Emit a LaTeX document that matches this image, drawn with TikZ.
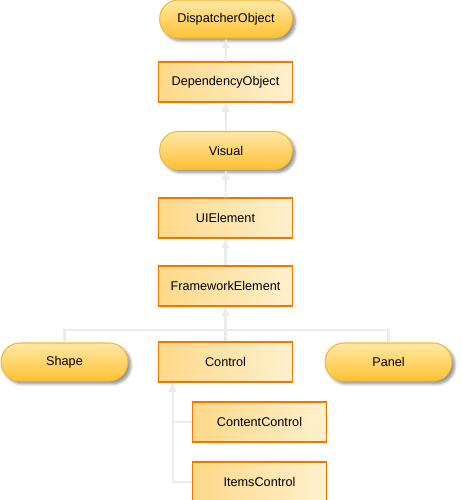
\documentclass[tikz,border=0pt]{standalone}
\usepackage{fontspec}
\setmainfont{Liberation Sans}
\usetikzlibrary{arrows.meta,shadows.blur,calc}
\definecolor{rectL}{HTML}{FDD888}
\definecolor{rectR}{HTML}{FFF0CE}
\definecolor{rectB}{HTML}{EE7700}
\definecolor{pillT}{HTML}{FFE8A6}
\definecolor{pillB}{HTML}{FFC232}
\definecolor{pillD}{HTML}{F2B83A}
\definecolor{connC}{HTML}{EBEBEB}
\begin{document}
\begin{tikzpicture}[x=0.75pt,y=-0.75pt,
  font=\fontsize{9.5pt}{11pt}\selectfont,
  boxnode/.style={draw=rectB,line width=0.9pt,left color=rectL,right color=rectR,
    minimum width=101pt,minimum height=30pt,inner sep=0pt},
  pillnode/.style={draw=pillD,line width=0.8pt,top color=pillT,bottom color=pillB,
    rounded corners=14pt,minimum width=99.5pt,minimum height=28.5pt,inner sep=0pt,
    blur shadow={shadow xshift=2.2pt,shadow yshift=-2.2pt,shadow blur steps=6,shadow opacity=45}},
  conn/.style={draw=connC,line width=1.6pt,-{Triangle[width=5.5pt,length=7pt]}},
  plain/.style={draw=connC,line width=1.6pt}]
\useasboundingbox (0,0) rectangle (461,500);
\node[pillnode] (disp) at (226,19) {DispatcherObject};
\node[boxnode] (dep) at (225.5,82) {DependencyObject};
\node[pillnode] (vis) at (226,150.5) {Visual};
\node[boxnode] (uie) at (225.5,218) {UIElement};
\node[boxnode] (fe) at (225.5,286) {FrameworkElement};
\node[boxnode] (ctrl) at (225.5,362) {Control};
\node[pillnode,minimum width=95pt] (shape) at (64.5,362) {Shape};
\node[pillnode,minimum width=95pt] (panel) at (388.5,362) {Panel};
\node[boxnode] (cc) at (259.5,422) {ContentControl};
\node[boxnode] (ic) at (259.5,482) {ItemsControl};
\coordinate (j) at (225.5,330);
\coordinate (k) at ($(ctrl.south west)+(15,0)$);
\draw[conn] (dep.north) -- (disp.south);
\draw[conn] (vis.north) -- (dep.south);
\draw[conn] (uie.north) -- (vis.south);
\draw[conn] (fe.north) -- (uie.south);
\draw[conn] (ctrl.north) -- (fe.south);
\draw[plain] (shape.north) |- (j);
\draw[plain] (panel.north) |- (j);
\draw[conn] (cc.west) -| (k);
\draw[conn] (ic.west) -| (k);
\end{tikzpicture}
\end{document}
